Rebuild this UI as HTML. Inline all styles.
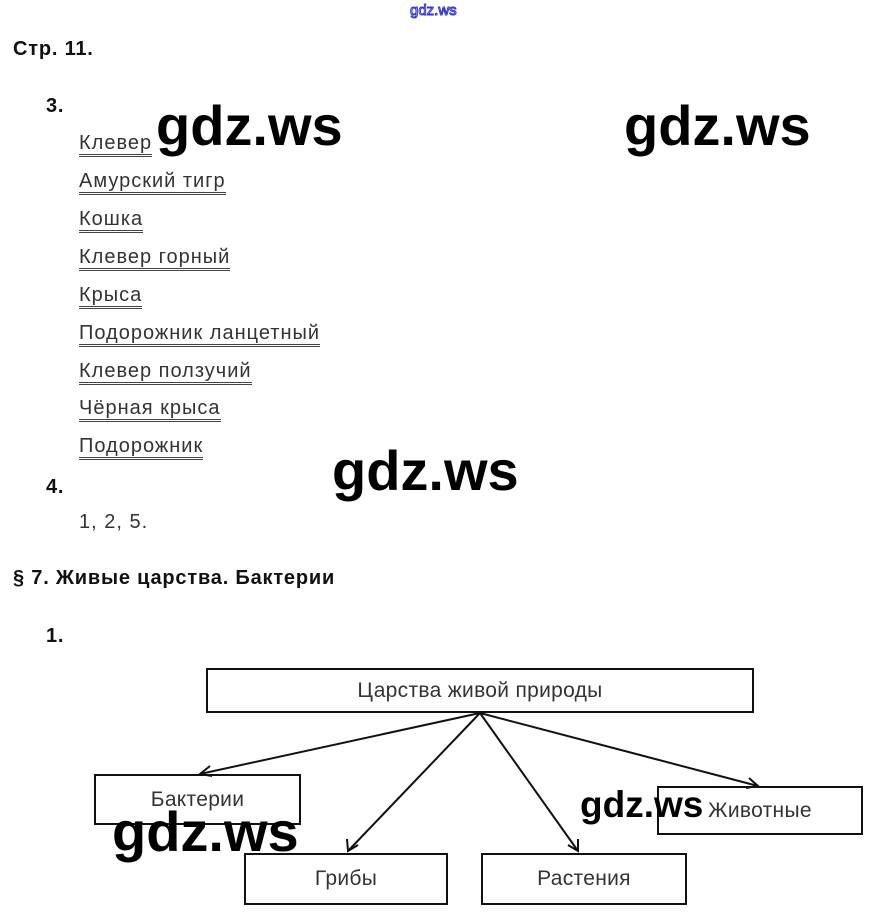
<!DOCTYPE html>
<html><head><meta charset="utf-8"><style>
body{margin:0;width:876px;height:924px;background:#fff;position:relative;overflow:hidden;font-family:"Liberation Sans",sans-serif;color:#222}
.a{position:absolute;white-space:nowrap}
.h{font-weight:bold;font-size:20px;color:#111;letter-spacing:0.8px}
.li{font-size:20px;color:#333;border-bottom:3px double #444;line-height:21px;letter-spacing:1px}
.wm{font-family:"Liberation Sans",sans-serif;font-weight:bold;font-size:56px;line-height:56px;color:#000}
.bx{position:absolute;border:2px solid #111;box-sizing:border-box;display:flex;align-items:center;justify-content:center;font-size:21px;color:#333;background:#fff;letter-spacing:0.3px}
</style></head><body>
<div class="a" style="left:410px;top:2px;font-size:15px;color:#fff;-webkit-text-stroke:1px #33c">gdz.ws</div>
<div class="a h" style="left:13px;top:38px">Стр. 11.</div>
<div class="a h" style="left:46px;top:95px">3.</div>
<div class="a li" style="left:79px;top:133px">Клевер</div>
<div class="a li" style="left:79px;top:171px">Амурский тигр</div>
<div class="a li" style="left:79px;top:209px">Кошка</div>
<div class="a li" style="left:79px;top:247px">Клевер горный</div>
<div class="a li" style="left:79px;top:285px">Крыса</div>
<div class="a li" style="left:79px;top:323px">Подорожник ланцетный</div>
<div class="a li" style="left:79px;top:361px">Клевер ползучий</div>
<div class="a li" style="left:79px;top:398px">Чёрная крыса</div>
<div class="a li" style="left:79px;top:436px">Подорожник</div>
<div class="a h" style="left:46px;top:476px">4.</div>
<div class="a" style="left:79px;top:511px;font-size:20px;color:#333;letter-spacing:1px">1, 2, 5.</div>
<div class="a h" style="left:13px;top:567px">§ 7. Живые царства. Бактерии</div>
<div class="a h" style="left:46px;top:625px">1.</div>

<div class="bx" style="left:206px;top:668px;width:548px;height:45px">Царства живой природы</div>
<div class="bx" style="left:94px;top:774px;width:207px;height:51px">Бактерии</div>
<div class="bx" style="left:657px;top:786px;width:206px;height:49px">Животные</div>
<div class="bx" style="left:244px;top:853px;width:204px;height:52px">Грибы</div>
<div class="bx" style="left:481px;top:853px;width:206px;height:52px">Растения</div>
<svg class="a" style="left:0;top:0" width="876" height="924">
<g stroke="#111" stroke-width="2" fill="none">
<line x1="480" y1="713" x2="200" y2="774"/><polyline points="210,766 200,774 212,776"/>
<line x1="480" y1="713" x2="348" y2="851"/><polyline points="347,839 348,851 358,845"/>
<line x1="480" y1="713" x2="578" y2="851"/><polyline points="568,845 578,851 578,839"/>
<line x1="480" y1="713" x2="758" y2="786"/><polyline points="746,788 758,786 749,778"/>
</g></svg>
<div class="a wm" style="left:156px;top:98px">gdz.ws</div>
<div class="a wm" style="left:624px;top:98px">gdz.ws</div>
<div class="a wm" style="left:332px;top:443px">gdz.ws</div>
<div class="a wm" style="left:112px;top:804px">gdz.ws</div>
<div class="a wm" style="left:580px;top:786px;font-size:37px;line-height:37px">gdz.ws</div>
</body></html>
